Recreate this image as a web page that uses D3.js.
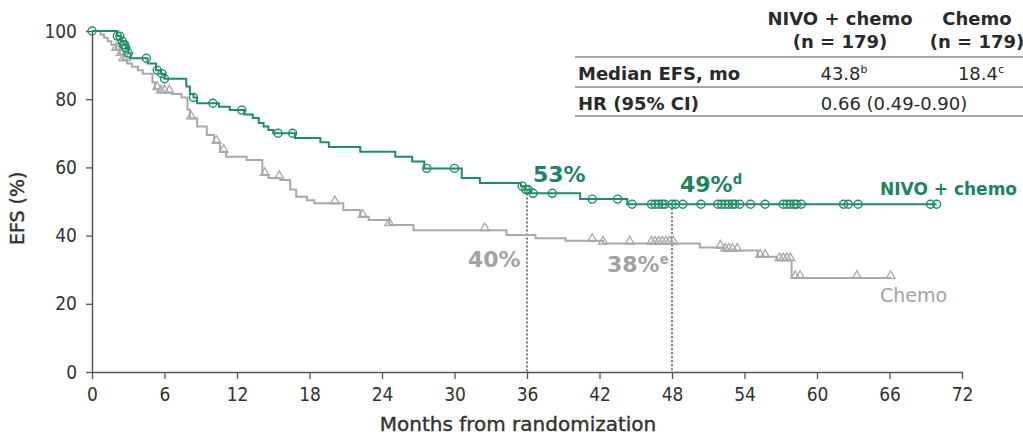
<!DOCTYPE html>
<html><head><meta charset="utf-8">
<script src="https://cdn.jsdelivr.net/npm/d3@7"></script>
<style>body{margin:0;background:#fff}svg{display:block}</style>
</head><body><svg id="c" width="1023" height="438"></svg>
<script>
// ---------- data ----------
const xTicks = [0, 6, 12, 18, 24, 30, 36, 42, 48, 54, 60, 66, 72];
const yTicks = [0, 20, 40, 60, 80, 100];

const nivoStepTimes  = [0, 2.1, 2.4, 2.6, 2.8, 3.0, 3.2, 4.6, 5.3, 5.7, 6.0, 7.8, 8.1, 8.4, 8.7, 10.5, 11.4, 12.6, 13.3, 13.8, 14.2, 14.6, 15.0, 16.8, 18.9, 19.6, 22.2, 25.1, 26.5, 27.5, 30.6, 32.1, 35.5, 35.8, 36.3, 40.4, 44.3];
const nivoStepValues = [100, 98.5, 97, 96, 95, 93.5, 92, 90.5, 88.5, 87.5, 86, 83.7, 81.5, 80.5, 78.8, 77.8, 76.8, 75.5, 74.5, 73, 72, 71, 70, 68.6, 67.4, 66, 64.6, 63.1, 61.7, 59.7, 56.9, 55.4, 54.5, 53.5, 52.4, 50.7, 49.2];
const nivoCensorTimes = [0, 2.1, 2.3, 2.5, 2.6, 2.7, 2.8, 3.0, 4.5, 5.4, 5.8, 6.0, 8.4, 10.0, 12.4, 15.4, 16.6, 27.7, 30.0, 35.6, 35.9, 36.1, 36.5, 38.1, 41.4, 43.5, 44.7, 46.3, 46.6, 46.9, 47.2, 47.4, 48.0, 48.3, 48.9, 50.4, 51.8, 52.1, 52.4, 52.7, 53.0, 53.2, 53.6, 54.5, 55.7, 57.2, 57.5, 57.8, 58.1, 58.3, 58.7, 62.2, 62.6, 63.4, 69.4, 69.9];
const nivoEnd = 69.9;

const chemoStepTimes  = [0, 0.7, 1.0, 1.3, 1.6, 2.0, 2.3, 2.6, 2.9, 3.3, 3.8, 4.2, 5.0, 5.2, 5.5, 6.6, 7.4, 7.9, 8.1, 8.7, 9.5, 10.1, 10.6, 11.1, 12.8, 14.1, 14.6, 15.6, 16.4, 16.9, 17.8, 18.4, 20.8, 22.2, 22.9, 24.6, 26.6, 34.3, 36.7, 39.2, 42.3, 50.3, 52.3, 55.1, 56.7, 57.9];
const chemoStepValues = [100, 99, 98, 97, 96, 94.5, 93, 91.5, 90.5, 89.5, 88.5, 87.5, 85, 83, 82, 81.5, 80.5, 77, 74.4, 72, 69.5, 67.2, 64.6, 63.1, 62.2, 57.8, 56.9, 56.3, 53.5, 51.4, 50.4, 49.5, 47.5, 45.5, 44.6, 43.1, 41.6, 40.2, 39.2, 38.5, 37.7, 36.5, 35.6, 33.8, 32.8, 27.6];
const chemoCensorTimes = [2.0, 2.2, 2.4, 2.6, 2.8, 5.4, 5.7, 6.0, 6.4, 8.2, 10.3, 10.9, 14.3, 15.5, 20.1, 22.4, 24.6, 32.5, 41.4, 42.3, 44.5, 46.3, 46.6, 46.9, 47.2, 47.5, 47.8, 48.1, 52.0, 52.4, 52.7, 53.0, 53.4, 55.3, 55.7, 56.9, 57.2, 57.5, 57.8, 58.2, 58.6, 63.3, 66.1];
const chemoEnd = 66.1;

const landmarkMonths = [36, 48];
const tableHeader = [["NIVO + chemo", "(n = 179)"], ["Chemo", "(n = 179)"]];
const tableRows = ["Median EFS, mo", "HR (95% CI)"];
const medianValues = [["43.8", "b"], ["18.4", "c"]];
const hrText = "0.66 (0.49-0.90)";

// ---------- drawing ----------
const GREEN = "#1f8e66", GREEN_T = "#1b8460", GRAY = "#a9a9a9", GRAY_T = "#a3a3a3", AX = "#555";
const svg = d3.select("#c");
const x = d3.scaleLinear().domain([0, 72]).range([92, 962]);
const y = d3.scaleLinear().domain([0, 100]).range([372, 31]);

function stepData(times, vals, end) {
  const d = times.map((t, i) => [t, vals[i]]);
  d.push([end, vals[vals.length - 1]]);
  return d;
}
function valAt(times, vals, t) {
  let v = vals[0];
  for (let i = 0; i < times.length; i++) if (times[i] <= t) v = vals[i];
  return v;
}

// axes
const xAxis = svg.append("g").attr("transform", `translate(0,${y(0)})`)
  .call(d3.axisBottom(x).tickValues(xTicks).tickSize(7).tickPadding(9).tickSizeOuter(0));
const yAxis = svg.append("g").attr("transform", `translate(${x(0)},0)`)
  .call(d3.axisLeft(y).tickValues(yTicks).tickSize(6).tickPadding(9).tickSizeOuter(0));
[xAxis, yAxis].forEach(g => {
  g.select(".domain").attr("stroke", AX).attr("stroke-width", 1.5);
  g.selectAll(".tick line").attr("stroke", AX).attr("stroke-width", 1.3);
  g.selectAll(".tick text").attr("fill", "#333").style("font-family", "DejaVu Sans Condensed").style("font-size", "19px");
});

svg.append("text").attr("x", 518).attr("y", 431).attr("text-anchor", "middle")
  .style("font-family", "DejaVu Sans").style("font-size", "20px").attr("fill", "#333")
  .attr("stroke", "#333").attr("stroke-width", 0.4).text("Months from randomization");
svg.append("text").attr("transform", `translate(24,${y(48)}) rotate(-90)`).attr("text-anchor", "middle")
  .style("font-family", "DejaVu Sans").style("font-size", "19px").attr("fill", "#333")
  .attr("stroke", "#333").attr("stroke-width", 0.4).text("EFS (%)");

// landmark dotted lines
landmarkMonths.forEach(m => {
  svg.append("line").attr("x1", x(m)).attr("x2", x(m))
    .attr("y1", y(valAt(nivoStepTimes, nivoStepValues, m))).attr("y2", y(0))
    .attr("stroke", "#333").attr("stroke-width", 1.3).attr("stroke-dasharray", "2,2");
});

const line = d3.line().x(d => x(d[0])).y(d => y(d[1])).curve(d3.curveStepAfter);

// chemo curve
svg.append("path").datum(stepData(chemoStepTimes, chemoStepValues, chemoEnd))
  .attr("d", line).attr("fill", "none").attr("stroke", GRAY).attr("stroke-width", 2);
const tri = d3.symbol().type(d3.symbolTriangle).size(34);
svg.append("g").selectAll("path").data(chemoCensorTimes).join("path")
  .attr("transform", t => `translate(${x(t)},${y(valAt(chemoStepTimes, chemoStepValues, t)) - 2})`)
  .attr("d", tri).attr("fill", "none").attr("stroke", GRAY).attr("stroke-width", 1.3);

// nivo curve
svg.append("path").datum(stepData(nivoStepTimes, nivoStepValues, nivoEnd))
  .attr("d", line).attr("fill", "none").attr("stroke", GREEN).attr("stroke-width", 2);
svg.append("g").selectAll("circle").data(nivoCensorTimes).join("circle")
  .attr("cx", t => x(t)).attr("cy", t => y(valAt(nivoStepTimes, nivoStepValues, t)))
  .attr("r", 4).attr("fill", "none").attr("stroke", GREEN).attr("stroke-width", 1.4);

// annotations
function label(tx, ty, main, sup, color, size, weight, anchor) {
  const t = svg.append("text").attr("x", tx).attr("y", ty).attr("fill", color)
    .attr("text-anchor", anchor || "start")
    .style("font-family", "DejaVu Sans").style("font-size", size + "px").style("font-weight", weight);
  t.append("tspan").text(main);
  if (sup) t.append("tspan").attr("dy", -size * 0.38).style("font-size", (size * 0.6) + "px").text(sup);
  return t;
}
label(533, 182, "53%", null, GREEN_T, 22, "bold");
label(680, 192, "49%", "d", GREEN_T, 22, "bold");
label(468, 267, "40%", null, GRAY_T, 22, "bold");
label(607, 272, "38%", "e", GRAY_T, 22, "bold");
label(880, 195, "NIVO + chemo", null, GREEN_T, 17, "bold");
label(880, 302, "Chemo", null, GRAY_T, 19, "normal");

// table
const TF = "DejaVu Sans", TS = 18, TC = "#2a2a2a";
const colX = [840, 977];
tableHeader.forEach((h, i) => {
  svg.append("text").attr("x", colX[i]).attr("y", 25).attr("text-anchor", "middle")
    .style("font-family", TF).style("font-size", TS + "px").style("font-weight", "bold").attr("fill", TC).text(h[0]);
  svg.append("text").attr("x", colX[i]).attr("y", 48).attr("text-anchor", "middle")
    .style("font-family", TF).style("font-size", TS + "px").style("font-weight", "bold").attr("fill", TC).text(h[1]);
});
[57, 87, 116].forEach(ly => svg.append("line").attr("x1", 575).attr("x2", 1023).attr("y1", ly).attr("y2", ly)
  .attr("stroke", "#8a8a8a").attr("stroke-width", 1.5));
tableRows.forEach((r, i) => {
  svg.append("text").attr("x", 578).attr("y", 80 + i * 30)
    .style("font-family", TF).style("font-size", TS + "px").style("font-weight", "bold").attr("fill", TC).text(r);
});
medianValues.forEach((m, i) => {
  const t = svg.append("text").attr("x", colX[i] + 4).attr("y", 80).attr("text-anchor", "middle")
    .style("font-family", TF).style("font-size", TS + "px").attr("fill", TC);
  t.append("tspan").text(m[0]);
  t.append("tspan").attr("dy", -7).style("font-size", "11px").text(m[1]);
});
svg.append("text").attr("x", 894).attr("y", 110).attr("text-anchor", "middle")
  .style("font-family", TF).style("font-size", TS + "px").attr("fill", TC).text(hrText);
</script></body></html>
